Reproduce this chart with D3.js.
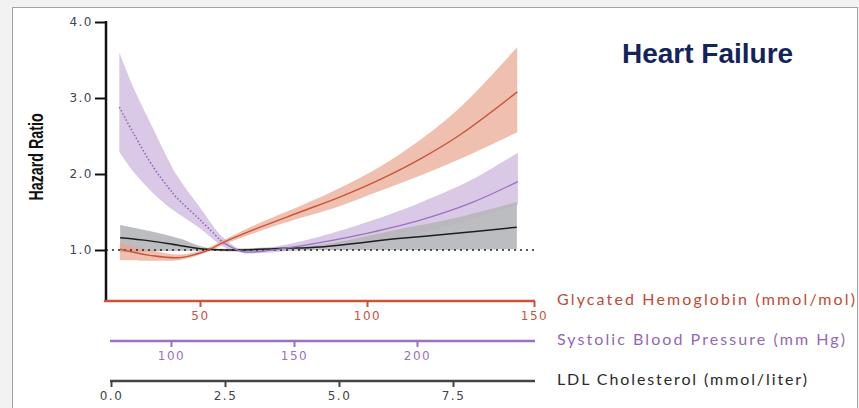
<!DOCTYPE html>
<html>
  <head>
    <meta charset="utf-8">
    <script src="https://d3js.org/d3.v7.min.js"></script>
    <title>Heart Failure</title>
    <style>
      body {
        margin: 0px;
        background-color: #f2f2f2;
      }
      .tick text {
        font-family: 'DejaVu Sans', sans-serif;
        font-size: 12px;
        letter-spacing: 1.5px;
      }
      .axis-title {
        font-family: 'Lato', sans-serif;
        font-size: 16px;
      }
      .title {
        font-family: 'Liberation Sans', Arial, sans-serif;
        font-weight: bold;
        font-size: 28px;
        fill: #13245c;
      }
      .y-label {
        font-family: 'Liberation Sans', Arial, sans-serif;
        font-weight: bold;
        font-size: 17px;
        fill: #111111;
      }
    </style>
  </head>
  <body>
    <div id="graph"></div>
    <script>

      // Glycated hemoglobin (mmol/mol)
      const hbaX  = [26, 35, 44, 52, 57, 68, 80, 92, 104, 116, 128, 145];
      const hbaHR = [1.01, 0.93, 0.90, 0.99, 1.10, 1.30, 1.50, 1.70, 1.93, 2.20, 2.52, 3.08];
      const hbaLo = [0.87, 0.86, 0.87, 0.97, 1.07, 1.25, 1.42, 1.58, 1.78, 1.98, 2.20, 2.55];
      const hbaHi = [1.10, 1.00, 0.94, 1.02, 1.13, 1.36, 1.58, 1.82, 2.10, 2.45, 2.88, 3.67];

      // Systolic blood pressure (mm Hg)
      const sbpX  = [79, 85, 93, 99, 102, 112, 121, 129, 136, 148, 161, 181, 201, 222, 241];
      const sbpHR = [2.88, 2.52, 2.08, 1.82, 1.70, 1.39, 1.10, 0.98, 0.98, 1.03, 1.10, 1.23, 1.39, 1.62, 1.90];
      const sbpLo = [2.29, 2.02, 1.74, 1.57, 1.50, 1.28, 1.05, 0.96, 0.96, 0.99, 1.04, 1.11, 1.22, 1.40, 1.60];
      const sbpHi = [3.60, 3.12, 2.58, 2.18, 2.00, 1.55, 1.17, 1.00, 1.01, 1.08, 1.18, 1.38, 1.62, 1.92, 2.28];

      // LDL cholesterol (mmol/liter)
      const ldlX  = [0.2, 0.85, 1.5, 2.1, 2.8, 3.7, 4.6, 6.3, 7.4, 8.9];
      const ldlHR = [1.16, 1.12, 1.06, 1.01, 1.00, 1.02, 1.04, 1.15, 1.21, 1.30];
      const ldlLo = [0.97, 0.98, 0.99, 0.99, 0.98, 0.99, 1.00, 1.00, 1.00, 1.01];
      const ldlHi = [1.33, 1.25, 1.15, 1.03, 1.02, 1.04, 1.07, 1.27, 1.40, 1.63];

      const yTicks = [1, 2, 3, 4];
      const hbaTicks = [50, 100, 150];
      const sbpTicks = [100, 150, 200];
      const ldlTicks = [0, 2.5, 5, 7.5];

      const red = '#c9533b', purple = '#9b71c0';

      const svg = d3.select('#graph').append('svg')
        .attr('width', 859)
        .attr('height', 408)
        .style('display', 'block');

      // slide frame
      svg.append('rect')
        .attr('x', 12.5).attr('y', 7.5)
        .attr('width', 845).attr('height', 402)
        .attr('fill', 'white')
        .attr('stroke', '#a3a3a3');

      const yScale = d3.scaleLinear().domain([1, 4]).range([250, 22]);
      const hbaScale = d3.scaleLinear().domain([50, 150]).range([200, 534]);
      const sbpScale = d3.scaleLinear().domain([100, 200]).range([171, 417]);
      const ldlScale = d3.scaleLinear().domain([0, 7.5]).range([111, 453]);

      const axisLeftX = 106;
      const bottomY = 301;

      const mk = (xs, hr, lo, hi) => xs.map((x, i) => ({x: x, hr: hr[i], lo: lo[i], hi: hi[i]}));
      const hba = mk(hbaX, hbaHR, hbaLo, hbaHi);
      const sbp = mk(sbpX, sbpHR, sbpLo, sbpHi);
      const ldl = mk(ldlX, ldlHR, ldlLo, ldlHi);

      const curve = d3.curveCatmullRom.alpha(0.5);
      const band = sc => d3.area().curve(curve)
        .x(d => sc(d.x)).y0(d => yScale(d.lo)).y1(d => yScale(d.hi));
      const line = sc => d3.line().curve(curve)
        .x(d => sc(d.x)).y(d => yScale(d.hr));

      // confidence bands
      svg.append('path').datum(sbp)
        .attr('d', band(sbpScale))
        .attr('fill', '#d9c8e6');
      svg.append('path').datum(ldl)
        .attr('d', band(ldlScale))
        .attr('fill', '#b5b6b9')
        .attr('fill-opacity', 0.9);
      svg.append('path').datum(hba)
        .attr('d', band(hbaScale))
        .attr('fill', '#e8a58d')
        .attr('fill-opacity', 0.7);

      // reference line at HR = 1
      svg.append('line')
        .attr('x1', axisLeftX).attr('x2', 538)
        .attr('y1', yScale(1)).attr('y2', yScale(1))
        .attr('stroke', '#222')
        .attr('stroke-width', 1.5)
        .attr('stroke-dasharray', '2,4');

      // estimate lines
      svg.append('path').datum(ldl)
        .attr('d', line(ldlScale))
        .attr('fill', 'none').attr('stroke', '#1e1e1e').attr('stroke-width', 1.5);
      svg.append('path').datum(sbp.filter(d => d.x <= 121))
        .attr('d', line(sbpScale))
        .attr('fill', 'none').attr('stroke', '#8b62b3').attr('stroke-width', 1.5)
        .attr('stroke-dasharray', '1.5,2');
      svg.append('path').datum(sbp.filter(d => d.x >= 121))
        .attr('d', line(sbpScale))
        .attr('fill', 'none').attr('stroke', purple).attr('stroke-width', 1.3);
      svg.append('path').datum(hba)
        .attr('d', line(hbaScale))
        .attr('fill', 'none').attr('stroke', red).attr('stroke-width', 1.4);

      // y axis
      const yAxisG = svg.append('g')
        .attr('transform', `translate(${axisLeftX},0)`)
        .call(d3.axisLeft(yScale).tickValues(yTicks).tickFormat(d3.format('.1f'))
          .tickSize(11).tickPadding(2).tickSizeOuter(0));
      yAxisG.select('.domain').remove();
      yAxisG.selectAll('.tick line').attr('stroke', '#111').attr('stroke-width', 2);
      yAxisG.selectAll('.tick text').attr('fill', '#3b4659');
      svg.append('line')
        .attr('x1', axisLeftX).attr('x2', axisLeftX)
        .attr('y1', yScale(4) - 1).attr('y2', bottomY)
        .attr('stroke', '#111').attr('stroke-width', 2.5);

      // condensed bold label, squeezed along the text direction
      svg.append('text')
        .attr('class', 'y-label')
        .attr('transform', 'translate(43,157) rotate(-90) scale(0.84,1.15)')
        .attr('text-anchor', 'middle')
        .text('Hazard Ratio');

      // bottom axes
      function bottomAxis(scale, ticks, fmt, y, x0, color, lineW, pad) {
        const g = svg.append('g')
          .attr('transform', `translate(0,${y})`)
          .call(d3.axisBottom(scale).tickValues(ticks).tickFormat(fmt)
            .tickSize(6).tickPadding(pad).tickSizeOuter(0));
        g.select('.domain').remove();
        g.selectAll('.tick line').attr('stroke', color).attr('stroke-width', 2);
        g.selectAll('.tick text').attr('fill', color);
        g.append('line')
          .attr('x1', x0).attr('x2', 535)
          .attr('y1', 0).attr('y2', 0)
          .attr('stroke', color).attr('stroke-width', lineW);
        return g;
      }

      bottomAxis(hbaScale, hbaTicks, d3.format('d'), bottomY, axisLeftX - 2, red, 2.5, 4);
      bottomAxis(sbpScale, sbpTicks, d3.format('d'), 341, 110, purple, 2.5, 4);
      bottomAxis(ldlScale, ldlTicks, d3.format('.1f'), 381, 110, '#444', 2.5, 4);

      // axis titles
      const titles = [
        {t: 'Glycated Hemoglobin (mmol/mol)', y: 305, c: '#c24a35', w: 298},
        {t: 'Systolic Blood Pressure (mm Hg)', y: 345, c: '#9268bb', w: 288},
        {t: 'LDL Cholesterol (mmol/liter)', y: 385, c: '#2a2a2a', w: 250}
      ];
      svg.selectAll('text.axis-title').data(titles)
        .enter().append('text')
          .attr('class', 'axis-title')
          .attr('x', 557)
          .attr('y', d => d.y)
          .attr('fill', d => d.c)
          .attr('textLength', d => d.w)
          .attr('lengthAdjust', 'spacing')
          .text(d => d.t);

      svg.append('text')
        .attr('class', 'title')
        .attr('x', 622)
        .attr('y', 63)
        .text('Heart Failure');

    </script>
  </body>
</html>
